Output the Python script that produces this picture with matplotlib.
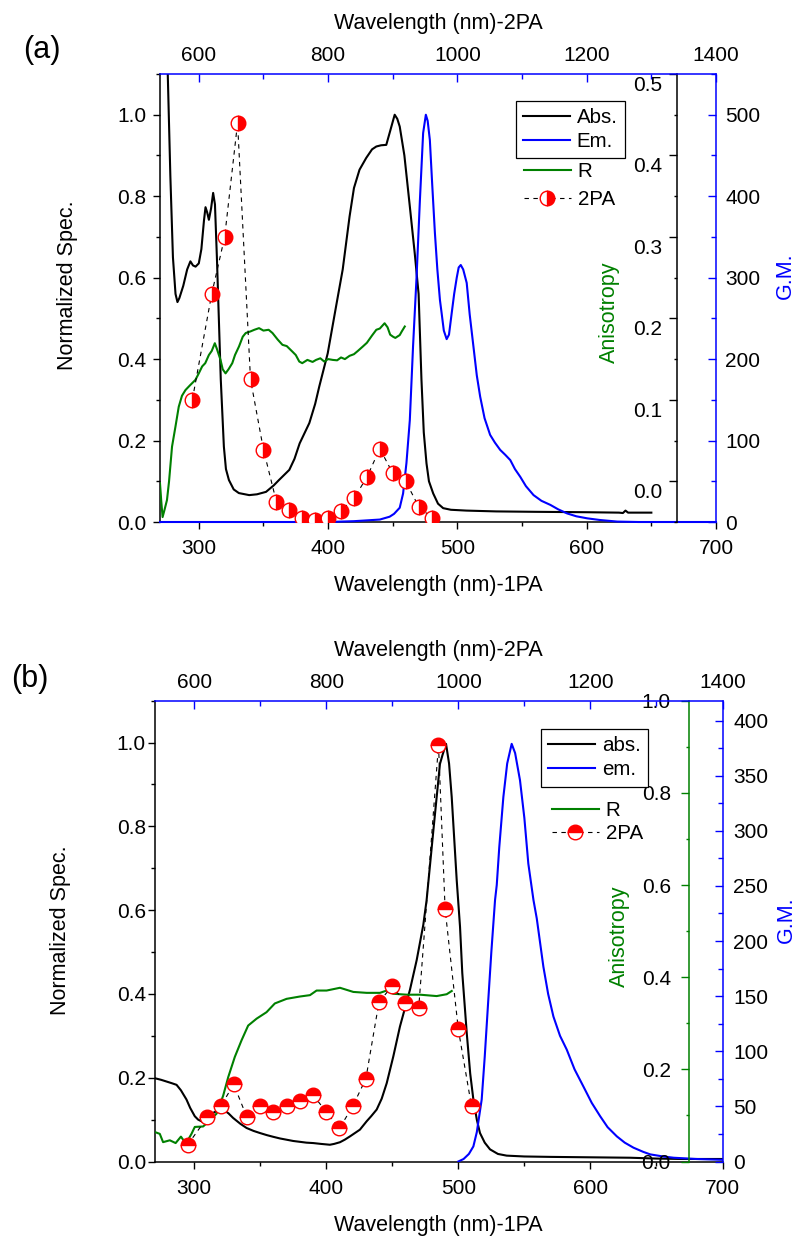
import matplotlib
matplotlib.use("Agg")
import matplotlib.pyplot as plt
import matplotlib.transforms as mtransforms
from matplotlib.ticker import MultipleLocator

plt.rcParams['font.family'] = ['Liberation Sans', 'DejaVu Sans']

BLUE = '#0000FF'
GREEN = '#008000'
RED = '#FF0000'

# ---------------- panel (a) ----------------
abs_a_wl = [274, 276, 278, 280, 282, 283.5, 285, 288, 291, 293.5, 295.5, 297.5, 300, 302, 304,
            305.2, 306.5, 307.8, 309.5, 311.1, 312.5, 314, 315.5, 317, 319.4, 321, 323.3, 327,
            331, 339, 345, 352, 358, 362, 370, 374, 378, 385.5, 390, 393.2, 399.7, 406.2, 411.3,
            416.6, 420, 424.3, 429.5, 434, 437.3, 441, 445, 448, 451.5, 453.5, 455.4, 459, 463.2,
            467, 470, 472.2, 474, 476.1, 478, 481.3, 485, 489, 495, 507, 530, 560, 600, 625, 628,
            630, 632, 650]
abs_a = [1.4, 1.1, 0.85, 0.65, 0.56, 0.54, 0.55, 0.58, 0.62, 0.64, 0.63, 0.627, 0.635, 0.67, 0.74,
         0.773, 0.76, 0.742, 0.77, 0.808, 0.78, 0.65, 0.50, 0.35, 0.185, 0.13, 0.103, 0.08,
         0.071, 0.066, 0.068, 0.074, 0.09, 0.103, 0.128, 0.155, 0.193, 0.243, 0.29, 0.333, 0.414,
         0.53, 0.62, 0.75, 0.82, 0.865, 0.894, 0.915, 0.922, 0.925, 0.926, 0.96, 1.0, 0.99, 0.971,
         0.9, 0.775, 0.66, 0.56, 0.35, 0.22, 0.144, 0.1, 0.07, 0.045, 0.034, 0.03, 0.028, 0.026,
         0.025, 0.024, 0.023, 0.022, 0.028, 0.023, 0.023]

em_a_wl = [270, 400, 420, 440, 447.6, 451, 455.4, 458, 460.6, 463.2, 465.7, 468.4, 471, 473.5,
           475.6, 477, 478.7, 480.5, 482.6, 484.5, 486.5, 487.8, 489.5, 491.7, 493.5, 495.6, 497.5,
           499.5, 501, 502.6, 504.5, 507.2, 509.5, 512.4, 515, 517.6, 521, 525.3, 529, 533.1, 537,
           540.9, 544.5, 548.6, 553, 558.9, 565, 571.9, 578, 584.9, 592, 600.4, 610, 623.7, 640, 700]
em_a = [0, 0, 0.002, 0.006, 0.013, 0.02, 0.035, 0.07, 0.145, 0.25, 0.431, 0.6, 0.79, 0.955,
        1.0, 0.985, 0.938, 0.83, 0.71, 0.62, 0.545, 0.513, 0.47, 0.449, 0.46, 0.513, 0.56,
        0.6, 0.625, 0.631, 0.62, 0.587, 0.51, 0.431, 0.36, 0.308, 0.255, 0.214, 0.195, 0.177, 0.165,
        0.152, 0.13, 0.111, 0.088, 0.066, 0.052, 0.042, 0.031, 0.021, 0.014, 0.009, 0.005, 0.001, 0, 0]

r_a_wl = [270, 271, 272, 273.5, 275.4, 277, 279.3, 282, 284.5, 287, 289.7, 293, 297.4, 300, 302.6,
          305, 307.8, 310, 312.4, 314, 316.8, 318.5, 320.7, 323, 325.9, 328, 331.1, 334, 336.3,
          340, 343, 346.6, 350, 354, 357, 361, 364.7, 368, 372.5, 375, 377.7, 380, 384, 388,
          390.7, 394, 397, 400, 403.6, 407, 410, 413, 416.6, 420, 423, 426.9, 430, 434, 437.3,
          440, 443.7, 446, 448, 450.2, 452, 455.4, 457, 459.3]
r_a = [-0.0025, -0.025, -0.044, -0.035, -0.023, 0.0, 0.0425, 0.0675, 0.0915, 0.105, 0.112, 0.1175,
       0.1245, 0.1325, 0.141, 0.145, 0.155, 0.16, 0.1695, 0.1625, 0.149, 0.1375, 0.1325, 0.1375,
       0.145, 0.155, 0.1655, 0.1775, 0.182, 0.184, 0.186, 0.188, 0.185, 0.186, 0.182, 0.174,
       0.1675, 0.166, 0.159, 0.155, 0.147, 0.145, 0.149, 0.1465, 0.149, 0.151, 0.147, 0.15,
       0.149, 0.1485, 0.152, 0.15, 0.154, 0.156, 0.16, 0.1655, 0.17, 0.179, 0.186, 0.1875,
       0.194, 0.189, 0.18, 0.1775, 0.176, 0.1795, 0.184, 0.19]

tpa_a_wl = [590, 620, 640, 660, 680, 700, 720, 740, 760, 780, 800, 820, 840, 860, 880, 900, 920, 940, 960]
tpa_a_gm = [150, 280, 350, 490, 175, 89, 25, 15, 5.5, 3, 4.5, 14, 29, 55, 90, 60, 50, 19, 5.5]

# ---------------- panel (b) ----------------
abs_b_wl = [270, 275, 279, 283, 286.7, 290, 294.2, 297, 300.5, 303, 306.8, 310, 314.4, 318, 322,
            326, 329.5, 335, 339.7, 345, 349.8, 355, 359.8, 365, 370, 375, 380, 385, 390.2, 396,
            402.8, 406, 410.4, 414, 418, 425.5, 430.6, 434, 438.2, 442, 445.8, 450.8, 455.8,
            463.4, 468.5, 473.5, 476, 481.1, 486.1, 488, 490.7, 493, 495, 498.8, 501.3, 503,
            506.4, 509, 511.4, 514, 516.4, 520, 524, 530, 536.6, 550, 570, 600, 630, 650, 670, 700]
abs_b = [0.199, 0.195, 0.191, 0.187, 0.183, 0.17, 0.148, 0.128, 0.108, 0.1, 0.094, 0.1, 0.116,
         0.122, 0.124, 0.115, 0.104, 0.09, 0.08, 0.073, 0.068, 0.063, 0.059, 0.055, 0.052, 0.049,
         0.047, 0.045, 0.044, 0.042, 0.040, 0.042, 0.046, 0.052, 0.06, 0.076, 0.096, 0.108,
         0.124, 0.15, 0.187, 0.251, 0.322, 0.41, 0.481, 0.565, 0.624, 0.79, 0.949, 0.97, 0.997,
         0.95, 0.87, 0.671, 0.56, 0.45, 0.306, 0.21, 0.148, 0.1, 0.068, 0.045, 0.029, 0.018,
         0.014, 0.012, 0.011, 0.010, 0.009, 0.007, 0.006, 0.006]

em_b_wl = [500, 504, 508, 511.4, 514, 517.7, 520, 522.7, 525, 527.8, 529.1, 531, 534.1, 537, 540.4,
           543, 546.7, 550, 553, 556.9, 559.4, 564.4, 568, 572, 577, 582.1, 588, 594.7, 601,
           607.4, 613, 620, 626, 632.6, 640, 645.3, 655, 663, 680, 700]
em_b = [0.0, 0.006, 0.018, 0.036, 0.07, 0.148, 0.25, 0.386, 0.5, 0.624, 0.66, 0.75, 0.87, 0.95,
        0.997, 0.975, 0.91, 0.82, 0.711, 0.624, 0.58, 0.465, 0.4, 0.346, 0.3, 0.267, 0.22,
        0.179, 0.14, 0.108, 0.082, 0.06, 0.045, 0.033, 0.023, 0.017, 0.012, 0.009, 0.006, 0.004]

r_b_wl = [270.2, 274, 276.5, 281.6, 286, 290, 293, 296, 298, 300.5, 306.8, 311.9, 317, 322,
          325.8, 330.8, 335.9, 340.9, 347.3, 354.8, 361.1, 370, 380, 387.7, 392.7, 400.3,
          410.4, 420.5, 430.6, 440.7, 445.8, 450.8, 460.9, 471, 483.6, 491.2, 495]
r_b = [0.064, 0.060, 0.042, 0.046, 0.040, 0.054, 0.042, 0.050, 0.060, 0.075, 0.076, 0.089,
       0.104, 0.143, 0.183, 0.227, 0.263, 0.295, 0.310, 0.324, 0.343, 0.353, 0.358, 0.361,
       0.371, 0.371, 0.377, 0.368, 0.366, 0.366, 0.371, 0.364, 0.362, 0.362, 0.359, 0.363, 0.370]

tpa_b_wl = [590, 620, 640, 660, 680, 700, 720, 740, 760, 780, 800, 820, 840, 860, 880, 900, 920,
            940, 970, 980, 1000, 1020]
tpa_b_gm = [15, 40, 50, 70, 40, 50, 45, 50, 54.5, 60.5, 45, 30, 50, 75, 145, 159, 144, 139,
            378, 229, 120, 50]

W, H = 797, 1237
fig = plt.figure(figsize=(W / 100, H / 100), dpi=100)


def make_panel(rect, tag, tag_xy, abs_wl, abs_v, em_wl, em_v, r_wl, r_v, tpa_wl, tpa_gm,
               labels, fill, r_lim, r_pos, r_major, r_minor, r_color, gm_top, gm_major,
               gm_minor, lay):
    ax = fig.add_axes(rect)
    ax3 = fig.add_axes(rect)
    ax2 = fig.add_axes(rect)
    for a in (ax3, ax2):
        a.patch.set_visible(False)

    # main axis: absorption + emission
    l_abs, = ax.plot(abs_wl, abs_v, color='black', lw=1.5, label=labels[0])
    l_em, = ax.plot(em_wl, em_v, color=BLUE, lw=1.5, label=labels[1], zorder=3,
                    clip_on=lay['em_clip'])
    ax.set_xlim(270, 700)
    ax.set_ylim(0, 1.1)
    ax.xaxis.set_major_locator(MultipleLocator(100))
    ax.xaxis.set_minor_locator(MultipleLocator(50))
    ax.yaxis.set_major_locator(MultipleLocator(0.2))
    ax.yaxis.set_minor_locator(MultipleLocator(0.1))
    ax.yaxis.set_major_formatter(lambda v, p: f'{v:.1f}')
    ax.tick_params(which='both', direction='out', width=1.0, labelsize=15)
    ax.tick_params(which='major', length=5)
    ax.tick_params(which='minor', length=3)
    ax.tick_params(axis='x', pad=lay['xpad'])
    ax.tick_params(axis='y', pad=lay['ypad'])
    ax.spines['top'].set_visible(False)
    ax.spines['right'].set_visible(False)
    for s in ('left', 'bottom'):
        ax.spines[s].set_linewidth(1.1)
    ax.set_xlabel('Wavelength (nm)-1PA', fontsize=15.5)
    ax.set_ylabel('Normalized Spec.', fontsize=15.5)
    ax.xaxis.set_label_coords(0.5, lay['xlab'])
    ax.yaxis.set_label_coords(lay['ylab'][0], lay['ylab'][1])
    ax.xaxis.label.set_va('center')
    ax.yaxis.label.set_va('center')

    # anisotropy axis
    l_r, = ax3.plot(r_wl, r_v, color=GREEN, lw=1.5, label='R')
    ax3.set_xlim(270, 700)
    ax3.set_ylim(*r_lim)
    ax3.xaxis.set_visible(False)
    for s in ('top', 'right', 'bottom'):
        ax3.spines[s].set_visible(False)
    ax3.spines['left'].set_position(('axes', r_pos))
    ax3.spines['left'].set_color(r_color)
    ax3.spines['left'].set_linewidth(1.1)
    ax3.yaxis.set_major_locator(MultipleLocator(r_major))
    ax3.yaxis.set_minor_locator(MultipleLocator(r_minor))
    ax3.tick_params(which='both', direction='out', color=r_color, width=1.0, labelsize=15)
    ax3.tick_params(which='major', length=5.5)
    ax3.tick_params(which='minor', length=2.5)
    ax3.set_ylabel('Anisotropy', fontsize=15.5, color=GREEN)
    ax3.yaxis.set_label_coords(lay['alab'][0], lay['alab'][1])
    ax3.yaxis.label.set_va('center')
    if lay['aniso_shift']:
        # tick labels sit a little below their ticks in this panel
        ax3.tick_params(labelleft=False)
        trans = mtransforms.blended_transform_factory(ax3.transAxes, ax3.transData)
        trans = mtransforms.offset_copy(trans, fig=fig, x=-10.5, y=-8.3, units='points')
        v = 0.0
        while v <= r_lim[1] + 1e-9:
            ax3.text(r_pos, v, f'{v:.1f}', transform=trans, ha='right', va='center', fontsize=15)
            v += r_major
    else:
        ax3.tick_params(axis='y', pad=lay['apad'])
        ax3.yaxis.set_major_formatter(lambda v, p: f'{v:.1f}')

    # 2PA axis (top x, right y)
    l_tpa, = ax2.plot(tpa_wl, tpa_gm, color='black', lw=0.8, ls=(0, (4, 4)), marker='o',
                      ms=10.5, mfc=RED, mfcalt='white', mec=RED, mew=1.0, fillstyle=fill,
                      label='2PA')
    ax2.set_xlim(540, 1400)
    ax2.set_ylim(0, gm_top)
    ax2.xaxis.tick_top()
    ax2.yaxis.tick_right()
    ax2.xaxis.set_label_position('top')
    ax2.yaxis.set_label_position('right')
    ax2.spines['left'].set_visible(False)
    ax2.spines['bottom'].set_visible(False)
    for s in ('top', 'right'):
        ax2.spines[s].set_color(BLUE)
        ax2.spines[s].set_linewidth(1.1)
    ax2.xaxis.set_major_locator(MultipleLocator(200))
    ax2.xaxis.set_minor_locator(MultipleLocator(100))
    ax2.yaxis.set_major_locator(MultipleLocator(gm_major))
    ax2.yaxis.set_minor_locator(MultipleLocator(gm_minor))
    ax2.tick_params(which='both', direction='in', color=BLUE, width=1.0, labelsize=15,
                    labelcolor='black')
    ax2.tick_params(which='major', length=6)
    ax2.tick_params(which='minor', length=3.5)
    ax2.tick_params(axis='x', pad=lay['tpad'])
    ax2.tick_params(axis='y', pad=lay['rpad'])
    ax2.set_xlabel('Wavelength (nm)-2PA', fontsize=15.5)
    ax2.set_ylabel('G.M.', fontsize=15.5, color=BLUE, rotation=90)
    ax2.xaxis.set_label_coords(0.5, lay['tlab'])
    ax2.yaxis.set_label_coords(lay['glab'][0], lay['glab'][1])
    ax2.xaxis.label.set_va('center')
    ax2.yaxis.label.set_va('center')

    leg1 = ax2.legend([l_abs, l_em], labels[:2], loc='upper left',
                      bbox_to_anchor=lay['leg1'], bbox_transform=fig.transFigure,
                      fontsize=14.8, frameon=True, fancybox=False, edgecolor='black',
                      framealpha=1, borderpad=0.35, borderaxespad=0, handlelength=2.28,
                      handletextpad=0.34, labelspacing=0.25)
    leg1.get_frame().set_linewidth(0.9)
    ax2.add_artist(leg1)
    ax2.legend([l_r, l_tpa], ['R', '2PA'], loc='upper left',
               bbox_to_anchor=lay['leg2'], bbox_transform=fig.transFigure,
               fontsize=14.8, frameon=False, borderpad=0, borderaxespad=0,
               handlelength=2.28, handletextpad=0.34, labelspacing=lay['leg2sp'],
               numpoints=1)

    fig.text(tag_xy[0], tag_xy[1], tag, fontsize=22, ha='center', va='center')


make_panel([160 / W, 1 - 522 / H, 556 / W, 448 / H], '(a)', (42 / W, 1 - 50 / H),
           abs_a_wl, abs_a, em_a_wl, em_a, r_a_wl, r_a, tpa_a_wl, tpa_a_gm,
           ['Abs.', 'Em.'], 'right', (-0.05, 0.5), 0.929, 0.1, 0.05, 'black', 550, 100, 50,
           dict(em_clip=False, xpad=7, ypad=4.8, tpad=6.3, rpad=6.5, apad=5,
                xlab=-0.141, ylab=(-0.167, 0.529), alab=(0.809, 0.469), tlab=1.112,
                glab=(1.124, 0.549), aniso_shift=True,
                leg1=(515.7 / W, 1 - 100.7 / H), leg2=(524 / W, 1 - 162 / H), leg2sp=0.46))

make_panel([154.5 / W, 1 - 1161.5 / H, 568 / W, 460.8 / H], '(b)', (30 / W, 1 - 679 / H),
           abs_b_wl, abs_b, em_b_wl, em_b, r_b_wl, r_b, tpa_b_wl, tpa_b_gm,
           ['abs.', 'em.'], 'top', (0, 1.0), 0.9405, 0.2, 0.1, GREEN, 418, 50, 25,
           dict(em_clip=True, xpad=7.5, ypad=1.2, tpad=6.1, rpad=7.6, apad=7.4,
                xlab=-0.138, ylab=(-0.165, 0.502), alab=(0.819, 0.489), tlab=1.110,
                glab=(1.112, 0.524), aniso_shift=False,
                leg1=(541 / W, 1 - 729 / H), leg2=(551.7 / W, 1 - 800.7 / H), leg2sp=0.21))

fig.savefig('out.png', dpi=100)
